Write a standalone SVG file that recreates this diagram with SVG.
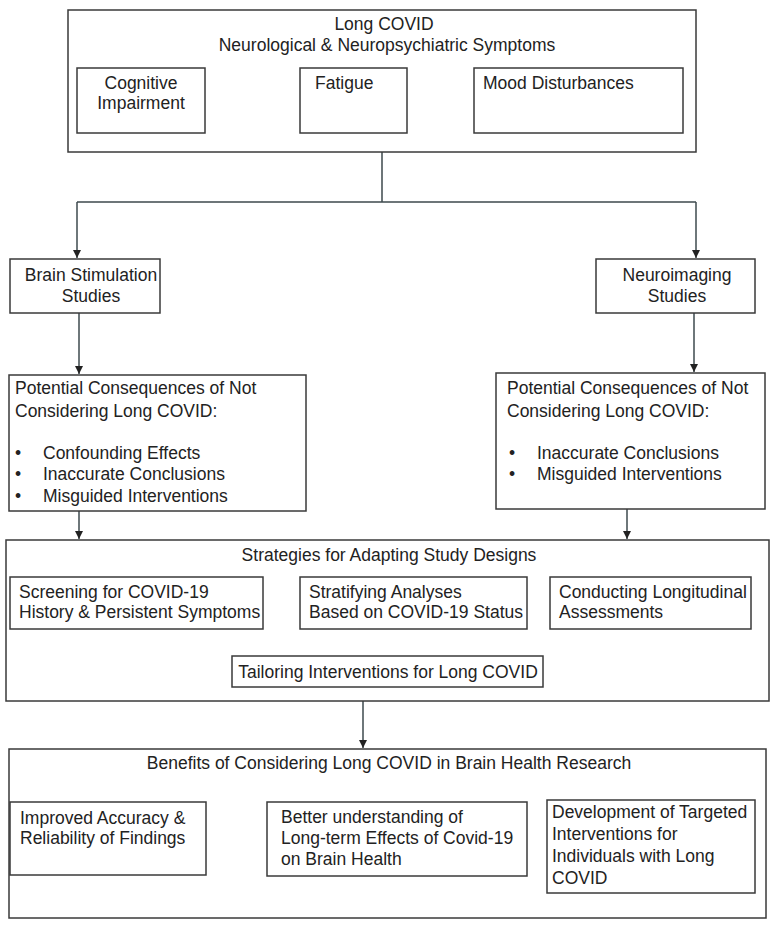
<svg xmlns="http://www.w3.org/2000/svg" width="772" height="927" viewBox="0 0 772 927">
<defs>
<style>
.b{fill:#fff;stroke:#3a3a3a;stroke-width:1.5}
text{font-family:"Liberation Sans",Arial,sans-serif;font-size:17.5px;fill:#222}
.c{text-anchor:middle}
.ln{fill:none;stroke:#3e4a4e;stroke-width:1.5}
</style>
<marker id="ah" markerUnits="userSpaceOnUse" markerWidth="8" markerHeight="8" refX="8" refY="4" orient="auto">
<path d="M0,0 L8,4 L0,8 z" fill="#222"/>
</marker>
</defs>
<rect width="772" height="927" fill="#fff"/>
<g id="connectors">
<path class="ln" d="M382,152 V202 M77,202 H696"/>
<path class="ln" d="M77,202 V258" marker-end="url(#ah)"/>
<path class="ln" d="M696,202 V258" marker-end="url(#ah)"/>
<path class="ln" d="M79,313 V374" marker-end="url(#ah)"/>
<path class="ln" d="M694,313 V372" marker-end="url(#ah)"/>
<path class="ln" d="M79,511 V539" marker-end="url(#ah)"/>
<path class="ln" d="M627,509 V539" marker-end="url(#ah)"/>
<path class="ln" d="M363,701 V748" marker-end="url(#ah)"/>
</g>
<g id="long-covid">
<rect class="b" x="68" y="10" width="628" height="142"/>
<text class="c" x="384" y="30">Long COVID</text>
<text class="c" x="387" y="51">Neurological &amp; Neuropsychiatric Symptoms</text>
</g>
<g id="cognitive">
<rect class="b" x="77" y="68" width="128" height="65"/>
<text class="c" x="141" y="89">Cognitive</text>
<text class="c" x="141" y="109">Impairment</text>
</g>
<g id="fatigue">
<rect class="b" x="300" y="68" width="107" height="65"/>
<text x="315" y="89">Fatigue</text>
</g>
<g id="mood">
<rect class="b" x="474" y="68" width="209" height="65"/>
<text x="483" y="89">Mood Disturbances</text>
</g>
<g id="brain-stim">
<rect class="b" x="10" y="259" width="150" height="54"/>
<text class="c" x="91" y="281">Brain Stimulation</text>
<text class="c" x="91" y="302">Studies</text>
</g>
<g id="neuroimaging">
<rect class="b" x="596" y="259" width="159" height="54"/>
<text class="c" x="677" y="281">Neuroimaging</text>
<text class="c" x="677" y="302">Studies</text>
</g>
<g id="consequences-left">
<rect class="b" x="9" y="375" width="297" height="136"/>
<text x="15" y="394">Potential Consequences of Not</text>
<text x="15" y="417">Considering Long COVID:</text>
<text x="15" y="459">•</text><text x="43" y="459">Confounding Effects</text>
<text x="15" y="480">•</text><text x="43" y="480">Inaccurate Conclusions</text>
<text x="15" y="502">•</text><text x="43" y="502">Misguided Interventions</text>
</g>
<g id="consequences-right">
<rect class="b" x="496" y="373" width="269" height="136"/>
<text x="507" y="394">Potential Consequences of Not</text>
<text x="507" y="417">Considering Long COVID:</text>
<text x="509" y="459">•</text><text x="537" y="459">Inaccurate Conclusions</text>
<text x="509" y="480">•</text><text x="537" y="480">Misguided Interventions</text>
</g>
<g id="strategies">
<rect class="b" x="6" y="540" width="763" height="161"/>
<text class="c" x="389" y="561">Strategies for Adapting Study Designs</text>
</g>
<g id="screening">
<rect class="b" x="10" y="577" width="253" height="52"/>
<text x="19" y="598">Screening for COVID-19</text>
<text x="19" y="618">History &amp; Persistent Symptoms</text>
</g>
<g id="stratifying">
<rect class="b" x="300" y="577" width="227" height="52"/>
<text x="309" y="598">Stratifying Analyses</text>
<text x="309" y="618">Based on COVID-19 Status</text>
</g>
<g id="longitudinal">
<rect class="b" x="550" y="577" width="201" height="52"/>
<text x="559" y="598">Conducting Longitudinal</text>
<text x="559" y="618">Assessments</text>
</g>
<g id="tailoring">
<rect class="b" x="232" y="656" width="311" height="31"/>
<text class="c" x="388" y="678">Tailoring Interventions for Long COVID</text>
</g>
<g id="benefits">
<rect class="b" x="9" y="749" width="757" height="169"/>
<text class="c" x="389" y="769">Benefits of Considering Long COVID in Brain Health Research</text>
</g>
<g id="accuracy">
<rect class="b" x="10" y="802" width="196" height="73"/>
<text x="20" y="824">Improved Accuracy &amp;</text>
<text x="20" y="844">Reliability of Findings</text>
</g>
<g id="understanding">
<rect class="b" x="267" y="802" width="260" height="74"/>
<text x="281" y="823">Better understanding of</text>
<text x="281" y="844">Long-term Effects of Covid-19</text>
<text x="281" y="865">on Brain Health</text>
</g>
<g id="targeted">
<rect class="b" x="547" y="800" width="208" height="93"/>
<text x="552" y="818">Development of Targeted</text>
<text x="552" y="840">Interventions for</text>
<text x="552" y="862">Individuals with Long</text>
<text x="552" y="884">COVID</text>
</g>
</svg>
